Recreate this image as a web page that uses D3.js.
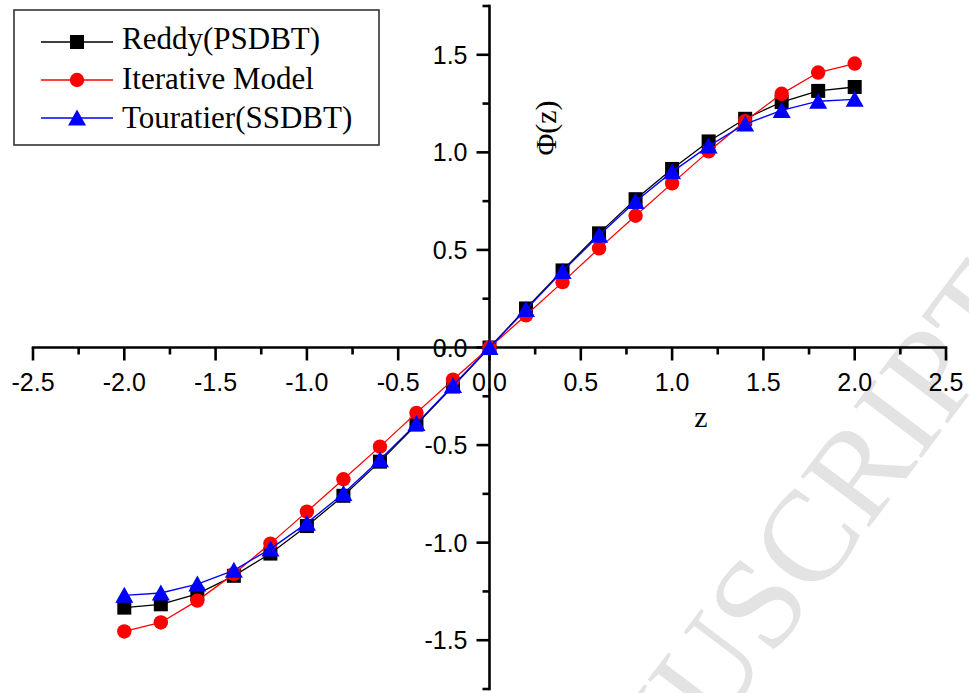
<!DOCTYPE html>
<html>
<head>
<meta charset="utf-8">
<script src="https://cdn.jsdelivr.net/npm/d3@7"></script>
<style>
html,body{margin:0;padding:0;background:#fff;}
svg{display:block;}
</style>
</head>
<body>
<svg id="chart" width="969" height="693"></svg>
<script>
const zValues = [-2.0,-1.8,-1.6,-1.4,-1.2,-1.0,-0.8,-0.6,-0.4,-0.2,0,0.2,0.4,0.6,0.8,1.0,1.2,1.4,1.6,1.8,2.0];
const reddy = [-1.333,-1.316,-1.262,-1.170,-1.056,-0.915,-0.760,-0.585,-0.395,-0.200,0,0.200,0.395,0.585,0.760,0.915,1.056,1.172,1.258,1.315,1.335];
const iterative = [-1.455,-1.409,-1.297,-1.160,-1.005,-0.841,-0.675,-0.508,-0.335,-0.165,0,0.165,0.335,0.508,0.675,0.841,1.005,1.160,1.300,1.409,1.455];
const touratier = [-1.270,-1.258,-1.212,-1.142,-1.032,-0.900,-0.748,-0.575,-0.390,-0.195,0,0.195,0.390,0.575,0.748,0.900,1.032,1.145,1.215,1.262,1.272];
const seriesNames = ["Reddy(PSDBT)","Iterative Model","Touratier(SSDBT)"];
const seriesColors = ["#000000","#ff0000","#0000ff"];
const seriesShapes = ["square","circle","triangle"];
const xTickLabels = ["-2.5","-2.0","-1.5","-1.0","-0.5","0.0","0.5","1.0","1.5","2.0","2.5"];
const yTickLabels = ["-1.5","-1.0","-0.5","0.0","0.5","1.0","1.5"];
const xLabel = "z";
const yLabel = "Φ(z)";
const watermark = "MANUSCRIPT";

const svg = d3.select("#chart");
const x = d3.scaleLinear().domain([-2.5, 2.5]).range([33, 946]);
const y = d3.scaleLinear().domain([-1.75, 1.75]).range([689, 6]);

// watermark
svg.append("text")
  .attr("transform", "translate(1036,306) rotate(-53)")
  .attr("text-anchor", "end")
  .attr("font-family", "Liberation Serif, Times New Roman, serif")
  .attr("font-size", 130)
  .attr("fill", "#e3e3e3")
  .text(watermark);

const axisColor = "#000";
// x axis
const xMajor = xTickLabels.map(Number);
const xMinor = d3.range(-2.25, 2.5, 0.5);
const gx = svg.append("g");
gx.append("line").attr("x1", x(-2.5)).attr("x2", x(2.5)).attr("y1", y(0)).attr("y2", y(0))
  .attr("stroke", axisColor).attr("stroke-width", 2.6).attr("stroke-linecap","square");
gx.selectAll(".xmaj").data(xMajor).enter().append("line")
  .attr("x1", d => x(d)).attr("x2", d => x(d)).attr("y1", y(0)).attr("y2", y(0) + 13)
  .attr("stroke", axisColor).attr("stroke-width", 2.6);
gx.selectAll(".xmin").data(xMinor).enter().append("line")
  .attr("x1", d => x(d)).attr("x2", d => x(d)).attr("y1", y(0)).attr("y2", y(0) + 7)
  .attr("stroke", axisColor).attr("stroke-width", 2.6);
gx.selectAll(".xlab").data(xTickLabels).enter().append("text")
  .attr("x", d => x(+d)).attr("y", y(0) + 43)
  .attr("text-anchor", "middle")
  .attr("font-family", "Liberation Sans, Arial, sans-serif").attr("font-size", 25)
  .text(d => d);

// y axis
const yMajor = yTickLabels.map(Number);
const yMinor = d3.range(-1.75, 1.76, 0.5);
const gy = svg.append("g");
gy.append("line").attr("x1", x(0)).attr("x2", x(0)).attr("y1", y(-1.75)).attr("y2", y(1.75))
  .attr("stroke", axisColor).attr("stroke-width", 2.6).attr("stroke-linecap","square");
gy.selectAll(".ymaj").data(yMajor).enter().append("line")
  .attr("x1", x(0) - 13).attr("x2", x(0)).attr("y1", d => y(d)).attr("y2", d => y(d))
  .attr("stroke", axisColor).attr("stroke-width", 2.6);
gy.selectAll(".ymin").data(yMinor).enter().append("line")
  .attr("x1", x(0) - 7).attr("x2", x(0)).attr("y1", d => y(d)).attr("y2", d => y(d))
  .attr("stroke", axisColor).attr("stroke-width", 2.6);
gy.selectAll(".ylab").data(yTickLabels).enter().append("text")
  .attr("x", x(0) - 22).attr("y", d => y(+d) + 9)
  .attr("text-anchor", "end")
  .attr("font-family", "Liberation Sans, Arial, sans-serif").attr("font-size", 25)
  .text(d => d);

// axis titles
svg.append("text").attr("x", 701).attr("y", 427).attr("text-anchor", "middle")
  .attr("font-family", "Liberation Serif, Times New Roman, serif").attr("font-size", 30)
  .text(xLabel);
svg.append("text").attr("transform", "translate(556,128) rotate(-90)").attr("text-anchor", "middle")
  .attr("font-family", "Liberation Serif, Times New Roman, serif").attr("font-size", 30)
  .text(yLabel);

function drawMarker(g, shape, color, cx, cy) {
  if (shape === "square") {
    g.append("rect").attr("x", cx - 7).attr("y", cy - 7).attr("width", 14).attr("height", 14).attr("fill", color);
  } else if (shape === "circle") {
    g.append("circle").attr("cx", cx).attr("cy", cy).attr("r", 7.2).attr("fill", color);
  } else {
    g.append("path").attr("d", `M${cx},${cy-8.5}L${cx+9},${cy+7.5}L${cx-9},${cy+7.5}Z`).attr("fill", color);
  }
}

const allSeries = [reddy, iterative, touratier];
const line = d3.line().x(d => x(d[0])).y(d => y(d[1]));
allSeries.forEach((vals, i) => {
  const pts = zValues.map((z, j) => [z, vals[j]]);
  const g = svg.append("g");
  g.append("path").datum(pts).attr("d", line).attr("fill", "none")
    .attr("stroke", seriesColors[i]).attr("stroke-width", 1.3);
  pts.forEach(p => drawMarker(g, seriesShapes[i], seriesColors[i], x(p[0]), y(p[1])));
});

// legend
const lg = svg.append("g");
lg.append("rect").attr("x", 14).attr("y", 10).attr("width", 365).attr("height", 135)
  .attr("fill", "#fff").attr("stroke", "#333").attr("stroke-width", 1.6);
const rowY = [42, 80, 118];
const baseY = [49, 89, 128];
seriesNames.forEach((name, i) => {
  lg.append("line").attr("x1", 41).attr("x2", 113).attr("y1", rowY[i]).attr("y2", rowY[i])
    .attr("stroke", seriesColors[i]).attr("stroke-width", 1.3);
  drawMarker(lg, seriesShapes[i], seriesColors[i], 77, rowY[i]);
  lg.append("text").attr("x", 122).attr("y", baseY[i])
    .attr("font-family", "Liberation Serif, Times New Roman, serif").attr("font-size", 31)
    .text(name);
});
</script>
</body>
</html>
